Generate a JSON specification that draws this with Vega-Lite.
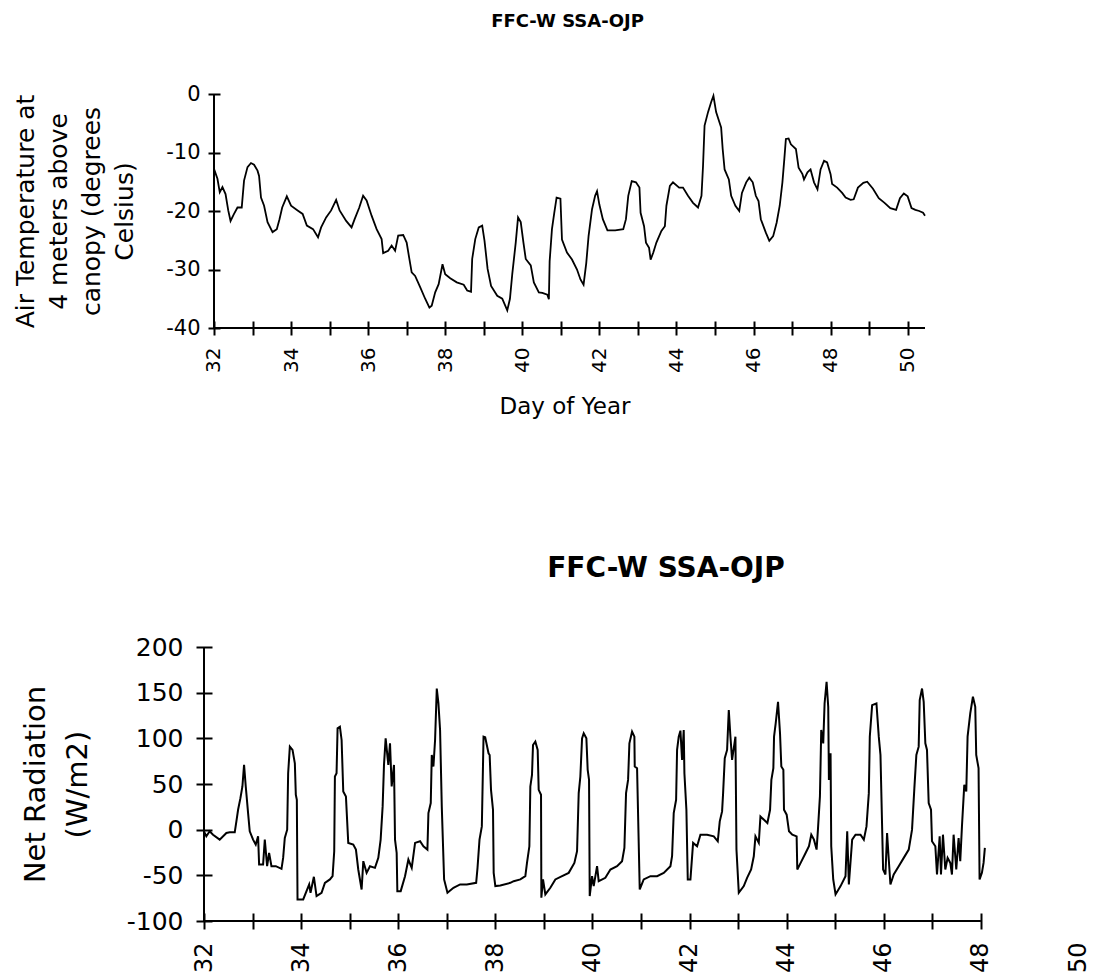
{
  "$schema": "https://vega.github.io/schema/vega-lite/v6.json",
  "background": "white",
  "padding": {"left": 13, "top": 13, "right": 5, "bottom": 5},
  "config": {
    "view": {"stroke": null},
    "font": "DejaVu Sans",
    "axis": {"grid": false, "domain": false, "tickColor": "black", "tickWidth": 2, "labelColor": "black", "titleColor": "black", "titleFontWeight": "normal", "labelFont": "DejaVu Sans", "titleFont": "DejaVu Sans"},
    "title": {"color": "black", "font": "DejaVu Sans", "anchor": "middle"}
  },
  "bounds": "flush",
  "spacing": 319,
  "datasets": {
    "temp": [
      {"day":32.00,"temp":-12.8},{"day":32.09,"temp":-14.5},{"day":32.15,"temp":-16.8},{"day":32.22,"temp":-15.9},{"day":32.30,"temp":-17.1},{"day":32.37,"temp":-19.9},{"day":32.43,"temp":-21.7},{"day":32.52,"temp":-20.5},{"day":32.61,"temp":-19.4},{"day":32.72,"temp":-19.4},{"day":32.78,"temp":-14.8},{"day":32.87,"temp":-12.5},{"day":32.96,"temp":-11.8},{"day":33.04,"temp":-12.1},{"day":33.13,"temp":-13.1},{"day":33.17,"temp":-14.0},{"day":33.22,"temp":-17.7},{"day":33.30,"temp":-19.1},{"day":33.39,"temp":-21.9},{"day":33.52,"temp":-23.6},{"day":33.63,"temp":-23.1},{"day":33.70,"temp":-21.4},{"day":33.77,"temp":-19.4},{"day":33.89,"temp":-17.5},{"day":34.00,"temp":-19.1},{"day":34.17,"temp":-19.9},{"day":34.30,"temp":-20.5},{"day":34.41,"temp":-22.5},{"day":34.57,"temp":-23.1},{"day":34.70,"temp":-24.5},{"day":34.78,"temp":-22.8},{"day":34.91,"temp":-21.1},{"day":35.04,"temp":-19.9},{"day":35.17,"temp":-18.1},{"day":35.26,"temp":-19.9},{"day":35.43,"temp":-21.7},{"day":35.57,"temp":-22.8},{"day":35.65,"temp":-21.4},{"day":35.77,"temp":-19.4},{"day":35.87,"temp":-17.4},{"day":35.96,"temp":-18.2},{"day":36.09,"temp":-20.8},{"day":36.22,"temp":-23.1},{"day":36.35,"temp":-24.8},{"day":36.39,"temp":-27.2},{"day":36.52,"temp":-26.8},{"day":36.61,"temp":-25.9},{"day":36.70,"temp":-26.8},{"day":36.78,"temp":-24.2},{"day":36.91,"temp":-24.1},{"day":37.00,"temp":-25.4},{"day":37.07,"temp":-28.2},{"day":37.13,"temp":-30.5},{"day":37.22,"temp":-31.1},{"day":37.35,"temp":-33.0},{"day":37.48,"temp":-35.0},{"day":37.59,"temp":-36.5},{"day":37.65,"temp":-36.2},{"day":37.74,"temp":-33.9},{"day":37.83,"temp":-32.5},{"day":37.93,"temp":-29.1},{"day":38.00,"temp":-30.8},{"day":38.13,"temp":-31.5},{"day":38.30,"temp":-32.2},{"day":38.48,"temp":-32.6},{"day":38.57,"temp":-33.6},{"day":38.67,"temp":-33.8},{"day":38.70,"temp":-28.2},{"day":38.78,"temp":-24.8},{"day":38.87,"temp":-22.8},{"day":38.96,"temp":-22.5},{"day":39.02,"temp":-25.1},{"day":39.10,"temp":-29.9},{"day":39.19,"temp":-32.8},{"day":39.35,"temp":-34.5},{"day":39.48,"temp":-35.0},{"day":39.61,"temp":-37.0},{"day":39.68,"temp":-35.0},{"day":39.74,"temp":-30.8},{"day":39.83,"temp":-25.4},{"day":39.89,"temp":-21.1},{"day":39.96,"temp":-21.9},{"day":40.03,"temp":-25.4},{"day":40.09,"temp":-28.2},{"day":40.22,"temp":-29.3},{"day":40.30,"temp":-32.2},{"day":40.43,"temp":-33.9},{"day":40.52,"temp":-34.0},{"day":40.65,"temp":-34.3},{"day":40.69,"temp":-35.1},{"day":40.71,"temp":-28.6},{"day":40.77,"temp":-23.1},{"day":40.83,"temp":-20.3},{"day":40.89,"temp":-17.7},{"day":40.99,"temp":-17.9},{"day":41.03,"temp":-24.9},{"day":41.16,"temp":-27.1},{"day":41.29,"temp":-28.3},{"day":41.42,"temp":-30.0},{"day":41.51,"temp":-31.7},{"day":41.59,"temp":-32.6},{"day":41.66,"temp":-28.9},{"day":41.72,"temp":-24.3},{"day":41.81,"temp":-19.7},{"day":41.89,"temp":-17.4},{"day":41.94,"temp":-16.6},{"day":42.00,"temp":-18.9},{"day":42.09,"temp":-21.4},{"day":42.21,"temp":-23.3},{"day":42.41,"temp":-23.3},{"day":42.62,"temp":-23.1},{"day":42.69,"temp":-21.4},{"day":42.75,"temp":-17.4},{"day":42.84,"temp":-14.9},{"day":42.95,"temp":-15.1},{"day":43.04,"temp":-16.0},{"day":43.07,"temp":-20.3},{"day":43.16,"temp":-22.6},{"day":43.21,"temp":-25.4},{"day":43.29,"temp":-26.3},{"day":43.33,"temp":-28.3},{"day":43.40,"temp":-27.1},{"day":43.48,"temp":-25.4},{"day":43.61,"temp":-23.4},{"day":43.70,"temp":-22.6},{"day":43.74,"temp":-19.1},{"day":43.83,"temp":-15.7},{"day":43.91,"temp":-15.1},{"day":44.07,"temp":-16.0},{"day":44.17,"temp":-16.0},{"day":44.30,"temp":-17.4},{"day":44.43,"temp":-18.6},{"day":44.56,"temp":-19.4},{"day":44.65,"temp":-17.4},{"day":44.69,"temp":-12.3},{"day":44.73,"temp":-5.4},{"day":44.82,"temp":-3.1},{"day":44.90,"temp":-1.4},{"day":44.96,"temp":-0.3},{"day":45.03,"temp":-3.1},{"day":45.12,"temp":-4.9},{"day":45.16,"temp":-5.7},{"day":45.20,"temp":-9.4},{"day":45.25,"temp":-12.9},{"day":45.36,"temp":-14.6},{"day":45.42,"temp":-17.4},{"day":45.53,"temp":-19.1},{"day":45.63,"temp":-20.0},{"day":45.70,"temp":-16.9},{"day":45.81,"temp":-15.1},{"day":45.89,"temp":-14.3},{"day":45.98,"temp":-15.1},{"day":46.06,"temp":-17.4},{"day":46.13,"temp":-18.3},{"day":46.19,"temp":-21.4},{"day":46.32,"temp":-23.7},{"day":46.41,"temp":-25.1},{"day":46.51,"temp":-24.3},{"day":46.60,"temp":-22.0},{"day":46.68,"temp":-19.1},{"day":46.75,"temp":-15.1},{"day":46.80,"temp":-11.1},{"day":46.84,"temp":-7.7},{"day":46.91,"temp":-7.6},{"day":46.97,"temp":-8.6},{"day":47.10,"temp":-9.4},{"day":47.17,"temp":-12.6},{"day":47.27,"temp":-13.7},{"day":47.31,"temp":-14.6},{"day":47.40,"temp":-13.4},{"day":47.48,"temp":-12.9},{"day":47.57,"temp":-15.1},{"day":47.66,"temp":-16.3},{"day":47.74,"temp":-12.9},{"day":47.83,"temp":-11.4},{"day":47.91,"temp":-11.7},{"day":48.00,"temp":-13.7},{"day":48.04,"temp":-15.4},{"day":48.17,"temp":-16.0},{"day":48.30,"temp":-16.9},{"day":48.39,"temp":-17.7},{"day":48.52,"temp":-18.1},{"day":48.60,"temp":-18.0},{"day":48.71,"temp":-16.0},{"day":48.85,"temp":-15.2},{"day":48.95,"temp":-15.0},{"day":49.10,"temp":-16.2},{"day":49.25,"temp":-17.8},{"day":49.40,"temp":-18.6},{"day":49.55,"temp":-19.5},{"day":49.70,"temp":-19.8},{"day":49.80,"temp":-17.8},{"day":49.90,"temp":-17.0},{"day":50.00,"temp":-17.5},{"day":50.10,"temp":-19.5},{"day":50.20,"temp":-19.8},{"day":50.30,"temp":-20.0},{"day":50.40,"temp":-20.3},{"day":50.45,"temp":-20.8}
    ],
    "rad": [
      {"day":32.000,"rad":-1.8},{"day":32.048,"rad":-7.3},{"day":32.117,"rad":-1.8},{"day":32.186,"rad":-5.5},{"day":32.323,"rad":-10.9},{"day":32.461,"rad":-3.6},{"day":32.530,"rad":-2.9},{"day":32.633,"rad":-2.9},{"day":32.667,"rad":9.1},{"day":32.702,"rad":21.8},{"day":32.750,"rad":34.5},{"day":32.791,"rad":47.3},{"day":32.825,"rad":70.9},{"day":32.860,"rad":47.3},{"day":32.908,"rad":18.2},{"day":32.942,"rad":-1.8},{"day":33.011,"rad":-10.9},{"day":33.066,"rad":-16.4},{"day":33.114,"rad":-7.3},{"day":33.135,"rad":-38.2},{"day":33.217,"rad":-38.2},{"day":33.252,"rad":-10.9},{"day":33.300,"rad":-40.0},{"day":33.341,"rad":-25.5},{"day":33.389,"rad":-40.0},{"day":33.479,"rad":-40.0},{"day":33.596,"rad":-42.9},{"day":33.630,"rad":-30.9},{"day":33.664,"rad":-9.1},{"day":33.713,"rad":0.0},{"day":33.733,"rad":61.8},{"day":33.768,"rad":90.9},{"day":33.823,"rad":87.3},{"day":33.871,"rad":72.7},{"day":33.891,"rad":38.2},{"day":33.912,"rad":32.7},{"day":33.926,"rad":-76.4},{"day":34.043,"rad":-76.4},{"day":34.111,"rad":-67.3},{"day":34.166,"rad":-60.0},{"day":34.194,"rad":-69.1},{"day":34.263,"rad":-51.6},{"day":34.318,"rad":-72.7},{"day":34.421,"rad":-69.1},{"day":34.490,"rad":-58.2},{"day":34.593,"rad":-54.5},{"day":34.648,"rad":-50.9},{"day":34.682,"rad":-23.6},{"day":34.696,"rad":58.2},{"day":34.730,"rad":61.8},{"day":34.751,"rad":110.9},{"day":34.799,"rad":112.7},{"day":34.834,"rad":98.2},{"day":34.868,"rad":41.8},{"day":34.923,"rad":36.4},{"day":34.971,"rad":-14.5},{"day":35.074,"rad":-16.4},{"day":35.129,"rad":-21.8},{"day":35.177,"rad":-43.6},{"day":35.246,"rad":-65.5},{"day":35.281,"rad":-34.5},{"day":35.349,"rad":-47.3},{"day":35.418,"rad":-40.0},{"day":35.521,"rad":-41.8},{"day":35.590,"rad":-30.9},{"day":35.638,"rad":-10.9},{"day":35.679,"rad":25.5},{"day":35.707,"rad":70.9},{"day":35.741,"rad":100.0},{"day":35.796,"rad":70.9},{"day":35.831,"rad":94.5},{"day":35.865,"rad":47.3},{"day":35.913,"rad":70.9},{"day":35.934,"rad":-10.9},{"day":35.968,"rad":-25.5},{"day":35.982,"rad":-67.3},{"day":36.051,"rad":-67.3},{"day":36.140,"rad":-50.9},{"day":36.209,"rad":-32.7},{"day":36.278,"rad":-41.8},{"day":36.347,"rad":-14.5},{"day":36.450,"rad":-12.7},{"day":36.519,"rad":-18.2},{"day":36.601,"rad":-21.8},{"day":36.622,"rad":18.2},{"day":36.670,"rad":29.1},{"day":36.691,"rad":81.8},{"day":36.725,"rad":69.1},{"day":36.759,"rad":98.2},{"day":36.794,"rad":154.5},{"day":36.828,"rad":138.2},{"day":36.862,"rad":109.1},{"day":36.897,"rad":25.5},{"day":36.945,"rad":-54.5},{"day":37.014,"rad":-69.1},{"day":37.138,"rad":-63.6},{"day":37.275,"rad":-60.0},{"day":37.413,"rad":-60.0},{"day":37.605,"rad":-58.2},{"day":37.633,"rad":-41.8},{"day":37.674,"rad":-10.9},{"day":37.722,"rad":3.6},{"day":37.757,"rad":101.8},{"day":37.791,"rad":101.1},{"day":37.860,"rad":83.6},{"day":37.883,"rad":81.8},{"day":37.911,"rad":43.6},{"day":37.952,"rad":21.8},{"day":37.966,"rad":-47.3},{"day":38.000,"rad":-61.8},{"day":38.103,"rad":-61.1},{"day":38.309,"rad":-58.2},{"day":38.378,"rad":-56.4},{"day":38.515,"rad":-54.5},{"day":38.618,"rad":-50.9},{"day":38.652,"rad":-36.4},{"day":38.701,"rad":-18.2},{"day":38.721,"rad":47.3},{"day":38.755,"rad":60.0},{"day":38.776,"rad":92.7},{"day":38.824,"rad":96.4},{"day":38.872,"rad":87.3},{"day":38.893,"rad":43.6},{"day":38.941,"rad":38.2},{"day":38.948,"rad":-74.5},{"day":38.982,"rad":-54.5},{"day":39.030,"rad":-70.9},{"day":39.133,"rad":-63.6},{"day":39.236,"rad":-54.5},{"day":39.374,"rad":-50.9},{"day":39.511,"rad":-47.3},{"day":39.628,"rad":-36.4},{"day":39.683,"rad":-23.6},{"day":39.717,"rad":40.0},{"day":39.751,"rad":58.2},{"day":39.786,"rad":100.0},{"day":39.820,"rad":105.5},{"day":39.875,"rad":100.0},{"day":39.902,"rad":65.5},{"day":39.930,"rad":54.5},{"day":39.944,"rad":-72.7},{"day":39.992,"rad":-50.9},{"day":40.026,"rad":-61.8},{"day":40.095,"rad":-40.0},{"day":40.129,"rad":-56.4},{"day":40.266,"rad":-52.7},{"day":40.370,"rad":-43.6},{"day":40.507,"rad":-40.0},{"day":40.610,"rad":-34.5},{"day":40.658,"rad":-20.0},{"day":40.692,"rad":40.0},{"day":40.734,"rad":54.5},{"day":40.761,"rad":94.5},{"day":40.816,"rad":107.3},{"day":40.864,"rad":101.8},{"day":40.871,"rad":69.1},{"day":40.919,"rad":67.3},{"day":40.974,"rad":-65.5},{"day":41.056,"rad":-54.5},{"day":41.194,"rad":-50.9},{"day":41.331,"rad":-50.9},{"day":41.468,"rad":-47.3},{"day":41.606,"rad":-40.0},{"day":41.640,"rad":-29.1},{"day":41.674,"rad":18.2},{"day":41.723,"rad":32.7},{"day":41.743,"rad":87.3},{"day":41.777,"rad":101.8},{"day":41.812,"rad":108.4},{"day":41.846,"rad":76.4},{"day":41.880,"rad":109.1},{"day":41.894,"rad":61.8},{"day":41.935,"rad":21.8},{"day":41.963,"rad":-54.5},{"day":42.018,"rad":-54.5},{"day":42.073,"rad":-14.5},{"day":42.155,"rad":-18.2},{"day":42.224,"rad":-5.5},{"day":42.361,"rad":-5.5},{"day":42.499,"rad":-7.3},{"day":42.581,"rad":-12.7},{"day":42.622,"rad":9.1},{"day":42.670,"rad":20.0},{"day":42.691,"rad":40.0},{"day":42.725,"rad":78.2},{"day":42.773,"rad":87.3},{"day":42.808,"rad":130.9},{"day":42.842,"rad":101.8},{"day":42.876,"rad":76.4},{"day":42.945,"rad":101.8},{"day":42.966,"rad":-21.8},{"day":43.014,"rad":-69.1},{"day":43.117,"rad":-61.8},{"day":43.185,"rad":-52.7},{"day":43.268,"rad":-43.6},{"day":43.323,"rad":-29.1},{"day":43.357,"rad":-7.3},{"day":43.426,"rad":-14.5},{"day":43.460,"rad":14.5},{"day":43.603,"rad":7.3},{"day":43.658,"rad":21.8},{"day":43.685,"rad":54.5},{"day":43.726,"rad":67.3},{"day":43.740,"rad":101.8},{"day":43.774,"rad":116.4},{"day":43.822,"rad":140.0},{"day":43.863,"rad":105.5},{"day":43.890,"rad":69.1},{"day":43.932,"rad":65.5},{"day":43.945,"rad":21.8},{"day":44.000,"rad":16.4},{"day":44.048,"rad":-1.8},{"day":44.116,"rad":-5.5},{"day":44.205,"rad":-7.3},{"day":44.219,"rad":-43.6},{"day":44.288,"rad":-36.4},{"day":44.390,"rad":-25.5},{"day":44.459,"rad":-18.2},{"day":44.507,"rad":-5.5},{"day":44.562,"rad":-10.9},{"day":44.616,"rad":-21.8},{"day":44.644,"rad":0.0},{"day":44.685,"rad":36.4},{"day":44.712,"rad":109.1},{"day":44.753,"rad":94.5},{"day":44.781,"rad":138.2},{"day":44.822,"rad":161.8},{"day":44.856,"rad":134.5},{"day":44.870,"rad":54.5},{"day":44.904,"rad":83.6},{"day":44.918,"rad":-18.2},{"day":44.959,"rad":-54.5},{"day":45.007,"rad":-70.9},{"day":45.110,"rad":-61.8},{"day":45.212,"rad":-50.9},{"day":45.247,"rad":-1.8},{"day":45.281,"rad":-60.0},{"day":45.349,"rad":-10.9},{"day":45.418,"rad":-5.5},{"day":45.521,"rad":-5.5},{"day":45.589,"rad":-10.9},{"day":45.644,"rad":3.6},{"day":45.692,"rad":40.0},{"day":45.712,"rad":101.8},{"day":45.760,"rad":136.4},{"day":45.849,"rad":138.2},{"day":45.897,"rad":101.8},{"day":45.932,"rad":81.8},{"day":45.986,"rad":-43.6},{"day":46.034,"rad":-49.1},{"day":46.068,"rad":-3.6},{"day":46.103,"rad":-32.7},{"day":46.137,"rad":-60.0},{"day":46.205,"rad":-49.1},{"day":46.308,"rad":-40.0},{"day":46.411,"rad":-30.9},{"day":46.514,"rad":-21.8},{"day":46.582,"rad":0.0},{"day":46.630,"rad":45.5},{"day":46.671,"rad":81.8},{"day":46.719,"rad":90.9},{"day":46.740,"rad":141.8},{"day":46.788,"rad":154.5},{"day":46.822,"rad":140.0},{"day":46.856,"rad":94.5},{"day":46.890,"rad":87.3},{"day":46.925,"rad":29.1},{"day":46.973,"rad":21.8},{"day":46.993,"rad":-12.7},{"day":47.062,"rad":-18.2},{"day":47.096,"rad":-49.1},{"day":47.151,"rad":-7.3},{"day":47.178,"rad":-49.1},{"day":47.219,"rad":-5.5},{"day":47.267,"rad":-43.6},{"day":47.315,"rad":-30.9},{"day":47.370,"rad":-36.4},{"day":47.404,"rad":-49.1},{"day":47.438,"rad":-5.5},{"day":47.493,"rad":-43.6},{"day":47.541,"rad":-9.1},{"day":47.575,"rad":-34.5},{"day":47.610,"rad":3.6},{"day":47.658,"rad":49.1},{"day":47.699,"rad":41.8},{"day":47.726,"rad":101.8},{"day":47.781,"rad":127.3},{"day":47.836,"rad":145.5},{"day":47.884,"rad":134.5},{"day":47.904,"rad":81.8},{"day":47.952,"rad":67.3},{"day":47.973,"rad":-54.5},{"day":48.021,"rad":-47.3},{"day":48.055,"rad":-36.4},{"day":48.082,"rad":-20.0}
    ],
    "tempAxes": [{"x0":32,"x1":50.45,"y0":-40,"y1":0}],
    "radAxes": [{"x0":32,"x1":48,"y0":-100,"y1":200}]
  },
  "vconcat": [
    {
      "width": 721,
      "height": 234,
      "title": {"text": "FFC-W SSA-OJP", "fontSize": 18, "fontWeight": "bold", "offset": 52, "dx": 3},
      "layer": [
        {
          "data": {"name": "temp"},
          "mark": {"type": "line", "color": "black", "strokeWidth": 1.8},
          "encoding": {
            "x": {"field": "day", "type": "quantitative",
              "scale": {"domain": [31.741, 50.45], "nice": false, "zero": false},
              "axis": {"values": [32,33,34,35,36,37,38,39,40,41,42,43,44,45,46,47,48,49,50],
                "labelExpr": "datum.value % 2 == 0 ? '' + datum.value : ''",
                "labelAngle": -90, "labelFontSize": 20, "labelPadding": 12,
                "tickSize": 14, "offset": -7,
                "title": "Day of Year", "titleFontSize": 23, "titleY": 85, "titleBaseline": "middle"}},
            "y": {"field": "temp", "type": "quantitative",
              "scale": {"domain": [-40, 0], "nice": false, "zero": false},
              "axis": {"values": [-40,-30,-20,-10,0],
                "labelExpr": "'' + datum.value",
                "labelFontSize": 21, "labelPadding": 8, "tickSize": 12, "offset": -16,
                "title": ["Air Temperature at", "4 meters above", "canopy (degrees", "Celsius)"],
                "titleFontSize": 25, "titleLineHeight": 33, "titleX": -195, "titleBaseline": "middle", "titleAlign": "center"}}
          }
        },
        {
          "data": {"name": "tempAxes"},
          "mark": {"type": "rule", "color": "black", "strokeWidth": 2},
          "encoding": {
            "x": {"field": "x0", "type": "quantitative"},
            "x2": {"field": "x1"},
            "y": {"field": "y0", "type": "quantitative"}
          }
        },
        {
          "data": {"name": "tempAxes"},
          "mark": {"type": "rule", "color": "black", "strokeWidth": 2},
          "encoding": {
            "x": {"field": "x0", "type": "quantitative"},
            "y": {"field": "y0", "type": "quantitative"},
            "y2": {"field": "y1"}
          }
        }
      ]
    },
    {
      "width": 874,
      "height": 274,
      "title": {"text": "FFC-W SSA-OJP", "fontSize": 28, "fontWeight": "bold", "offset": 52, "dx": 25},
      "layer": [
        {
          "data": {"name": "rad"},
          "mark": {"type": "line", "color": "black", "strokeWidth": 2},
          "encoding": {
            "x": {"field": "day", "type": "quantitative",
              "scale": {"domain": [32, 50], "nice": false, "zero": false},
              "axis": {"values": [32,33,34,35,36,37,38,39,40,41,42,43,44,45,46,47,48,49,50],
                "labelExpr": "datum.value % 2 == 0 ? '' + datum.value : ''",
                "tickOpacity": {"condition": {"test": "datum.value > 48", "value": 0}, "value": 1},
                "labelAngle": -90, "labelFontSize": 24, "labelPadding": 13,
                "tickSize": 16, "offset": -8, "title": null}},
            "y": {"field": "rad", "type": "quantitative",
              "scale": {"domain": [-100, 200], "nice": false, "zero": false},
              "axis": {"values": [-100,-50,0,50,100,150,200],
                "labelExpr": "'' + datum.value",
                "labelFontSize": 25, "labelPadding": 13, "tickSize": 16, "offset": -8,
                "title": ["Net Radiation", "(W/m2)"],
                "titleFontSize": 29, "titleLineHeight": 42, "titleX": -177, "titleBaseline": "middle", "titleAlign": "center"}}
          }
        },
        {
          "data": {"name": "radAxes"},
          "mark": {"type": "rule", "color": "black", "strokeWidth": 2},
          "encoding": {
            "x": {"field": "x0", "type": "quantitative"},
            "x2": {"field": "x1"},
            "y": {"field": "y0", "type": "quantitative"}
          }
        },
        {
          "data": {"name": "radAxes"},
          "mark": {"type": "rule", "color": "black", "strokeWidth": 2},
          "encoding": {
            "x": {"field": "x0", "type": "quantitative"},
            "y": {"field": "y0", "type": "quantitative"},
            "y2": {"field": "y1"}
          }
        }
      ]
    }
  ]
}
